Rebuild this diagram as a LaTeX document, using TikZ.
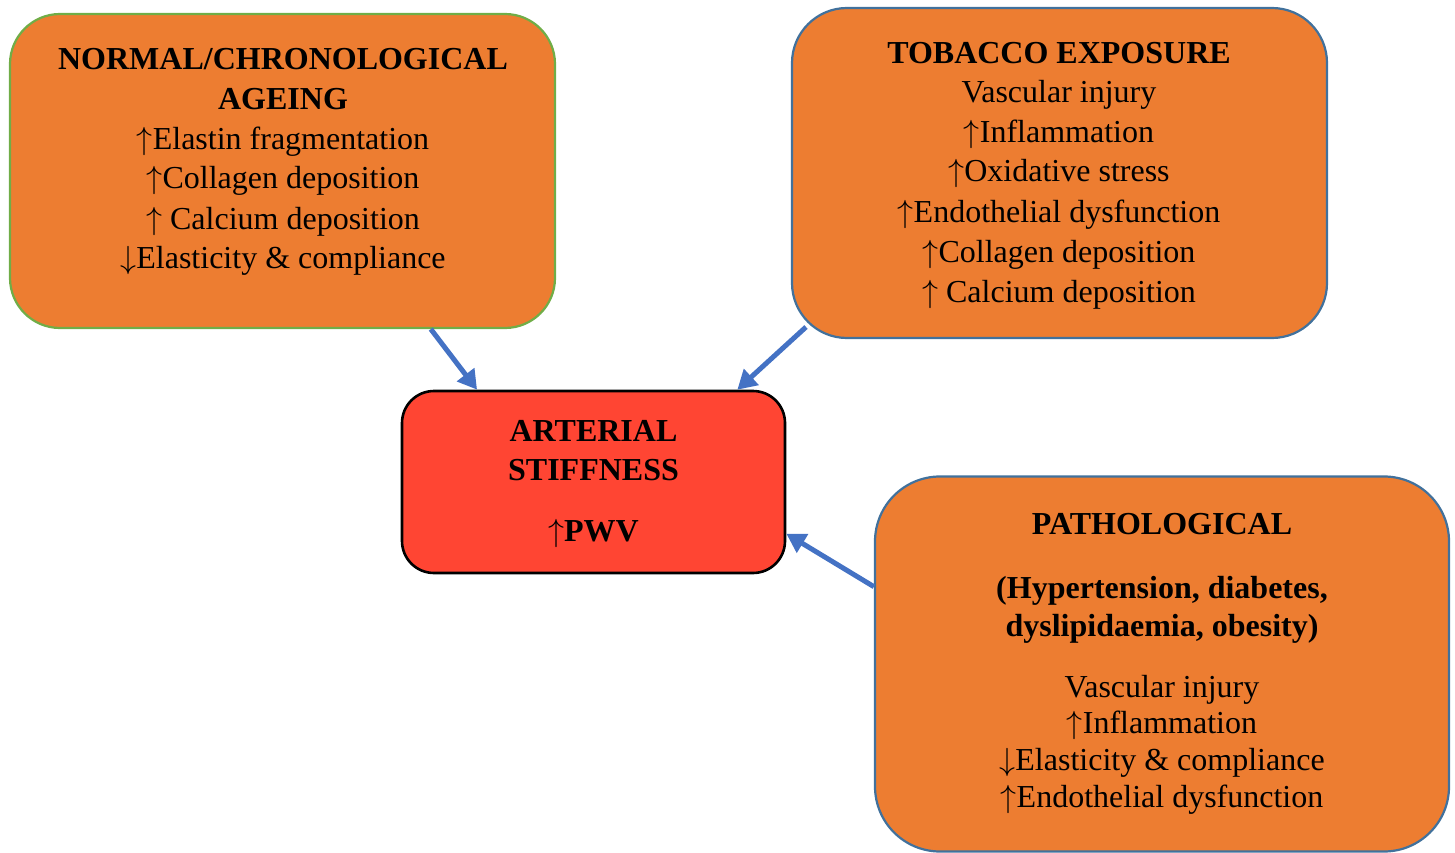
\RequirePackage{fix-cm}
\documentclass[tikz,border=0pt]{standalone}
\usepackage{fontspec}
\setmainfont{Liberation Serif}
\usetikzlibrary{arrows.meta,calc}
\definecolor{boxorange}{HTML}{ED7D31}
\definecolor{boxgreen}{HTML}{70AD47}
\definecolor{boxblue}{HTML}{41719C}
\definecolor{boxred}{HTML}{FF4533}
\definecolor{arrowblue}{HTML}{4472C4}
\newcommand{\UpA}{{\usefont{OMS}{cmsy}{m}{n}\char"22}}
\newcommand{\DnA}{{\usefont{OMS}{cmsy}{m}{n}\char"23}}
\tikzset{
  panel/.style={rectangle, fill=boxorange, inner sep=0pt, line width=2.2pt},
  txt/.style={anchor=base, inner sep=0pt, font=\fontsize{32}{38}\selectfont},
  btxt/.style={txt, font=\fontsize{32}{38}\selectfont\bfseries},
  link/.style={draw=arrowblue, line width=5pt, -{Triangle[length=19pt,width=21pt]}}
}
\begin{document}
\begin{tikzpicture}[x=1pt,y=-1pt]
\useasboundingbox (0,0) rectangle (1455,853);
% boxes
\node[panel, draw=boxgreen, rounded corners=50pt, minimum width=545pt, minimum height=314pt] (b1) at (282.5,171) {};
\node[panel, draw=boxblue, rounded corners=55pt, minimum width=535pt, minimum height=330pt] (b2) at (1059.5,173) {};
\node[rectangle, fill=boxred, draw=black, line width=2.6pt, rounded corners=32pt, inner sep=0pt, minimum width=383pt, minimum height=182pt] (b3) at (593.5,482) {};
\node[panel, draw=boxblue, rounded corners=65pt, minimum width=574pt, minimum height=375pt] (b4) at (1162,664) {};
% box 1 text
\node[btxt] (t1a) at (283,70) {NORMAL/CHRONOLOGICAL};
\node[btxt] (t1b) at (283,110) {AGEING};
\node[txt] (t1c) at (283,150) {\UpA Elastin fragmentation};
\node[txt] (t1d) at (283,189) {\UpA Collagen deposition};
\node[txt] (t1e) at (283,229) {\UpA\ Calcium deposition};
\node[txt] (t1f) at (283,268) {\DnA Elasticity \& compliance};
% box 2 text
\node[btxt] (t2a) at (1059,64) {TOBACCO EXPOSURE};
\node[txt] (t2b) at (1059,103) {Vascular injury};
\node[txt] (t2c) at (1059,143) {\UpA Inflammation};
\node[txt] (t2d) at (1059,182) {\UpA Oxidative stress};
\node[txt] (t2e) at (1059,222) {\UpA Endothelial dysfunction};
\node[txt] (t2f) at (1059,262) {\UpA Collagen deposition};
\node[txt] (t2g) at (1059,302) {\UpA\ Calcium deposition};
% box 3 text
\node[btxt] (t3a) at (593.5,441) {ARTERIAL};
\node[btxt] (t3b) at (593.5,480) {STIFFNESS};
\node[txt] (t3c) at (593.5,541) {\UpA\textbf{PWV}};
% box 4 text
\node[btxt] (t4a) at (1162,534) {PATHOLOGICAL};
\node[btxt] (t4b) at (1162,598) {(Hypertension, diabetes,};
\node[btxt] (t4c) at (1162,636) {dyslipidaemia, obesity)};
\node[txt] (t4d) at (1162,697) {Vascular injury};
\node[txt] (t4e) at (1162,733) {\UpA Inflammation};
\node[txt] (t4f) at (1162,770) {\DnA Elasticity \& compliance};
\node[txt] (t4g) at (1162,807) {\UpA Endothelial dysfunction};
% connectors
\coordinate (s1) at ($(b1.south west)!0.771!(b1.south east)$);
\coordinate (e1) at ($(b3.north west)!0.198!(b3.north east)$);
\coordinate (s2) at (806,327);
\coordinate (e2) at ($(b3.north west)!0.873!(b3.north east)$);
\coordinate (s3) at ($(b4.north west)!0.295!(b4.south west)$);
\coordinate (e3) at ($(b3.north east)!0.78!(b3.south east)$);
\draw[link] (s1) -- (e1);
\draw[link] (s2) -- (e2);
\draw[link] (s3) -- (e3);
\end{tikzpicture}
\end{document}
